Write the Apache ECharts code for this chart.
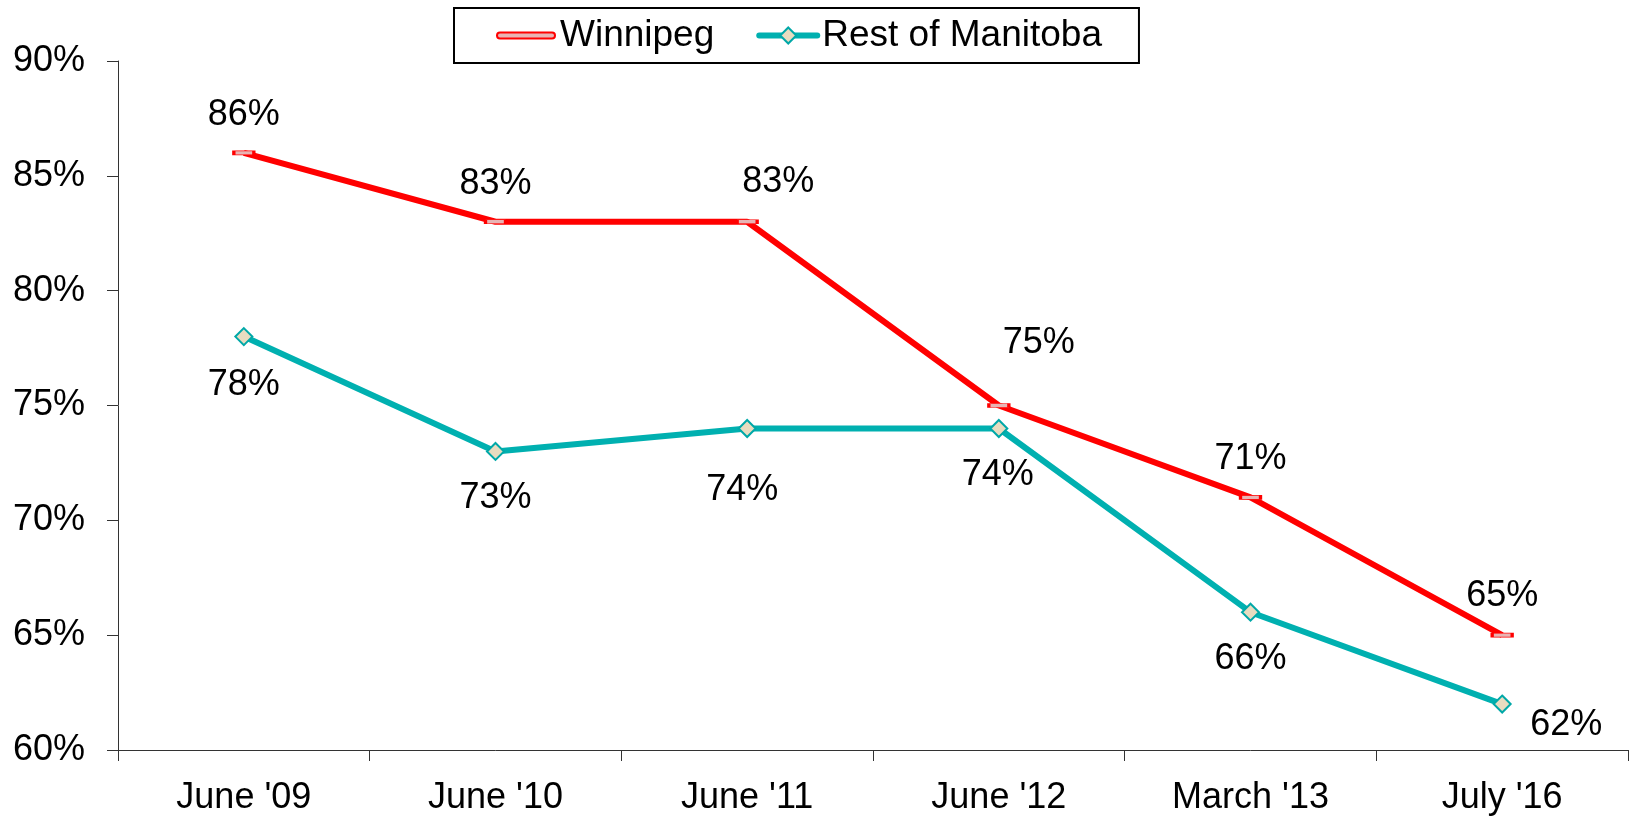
<!DOCTYPE html>
<html>
<head>
<meta charset="utf-8">
<title>Winnipeg vs Rest of Manitoba</title>
<script src="https://cdn.jsdelivr.net/npm/echarts@6/dist/echarts.min.js"></script>
<style>
  html, body { margin: 0; padding: 0; background: #fff; }
  #chart { width: 1629px; height: 816px; }
</style>
</head>
<body>
<div id="chart"></div>
<script>
const categories = ["June '09", "June '10", "June '11", "June '12", "March '13", "July '16"];
const winnipeg = [86, 83, 83, 75, 71, 65];
const restOfManitoba = [78, 73, 74, 74, 66, 62];

// label nudges (px) so labels sit where the original has them
const winnipegLabelOffset = [[0, -38], [0, -38], [31, -40], [40, -62], [0, -38], [0, -39]];
const restLabelOffset = [[0, 48], [0, 47], [-5, 62], [-1, 47], [0, 47], [64, 21]];

const FONT = 'Liberation Sans, Arial, sans-serif';

const withLabels = (values, offsets) =>
  values.map((v, i) => ({
    value: v,
    label: { offset: offsets[i] }
  }));

const chart = echarts.init(document.getElementById('chart'));

chart.setOption({
  animation: false,
  textStyle: { fontFamily: FONT },
  grid: { left: 118, right: 1, top: 61, bottom: 64, containLabel: false },
  legend: {
    left: 454,
    top: 8,
    padding: [9, 37, 9, 42],
    itemGap: 42,
    itemWidth: 58,
    itemHeight: 20,
    borderColor: '#000',
    borderWidth: 2,
    lineStyle: { width: 6, cap: 'round' },
    textStyle: { fontSize: 37, color: '#000', fontFamily: FONT },
    data: [
      { name: 'Winnipeg', icon: 'path://M3,0 L55,0 A3,3 0 0 1 55,6 L3,6 A3,3 0 0 1 3,0 Z' },
      { name: 'Rest of Manitoba' }
    ]
  },
  xAxis: {
    type: 'category',
    data: categories,
    boundaryGap: true,
    axisLine: { lineStyle: { color: '#333', width: 1 } },
    axisTick: { show: true, length: 11, alignWithLabel: false, lineStyle: { color: '#333' } },
    axisLabel: { interval: 0, margin: 30, fontSize: 36, color: '#000', fontFamily: FONT }
  },
  yAxis: {
    type: 'value',
    min: 60,
    max: 90,
    interval: 5,
    splitLine: { show: false },
    axisLine: { show: true, lineStyle: { color: '#333', width: 1 } },
    axisTick: { show: true, length: 11, lineStyle: { color: '#333' } },
    axisLabel: { margin: 33, fontSize: 36, color: '#000', fontFamily: FONT, formatter: '{value}%', padding: [4, 0, 0, 0] }
  },
  series: [
    {
      name: 'Winnipeg',
      type: 'line',
      data: withLabels(winnipeg, winnipegLabelOffset),
      symbol: 'rect',
      symbolSize: [20, 4],
      lineStyle: { color: '#ff0000', width: 6 },
      itemStyle: { color: '#e8b4b4', borderColor: '#ff0000', borderWidth: 1.5 },
      label: {
        show: true,
        position: 'inside',
        align: 'center',
        verticalAlign: 'middle',
        fontSize: 36,
        color: '#000',
        fontFamily: FONT,
        formatter: '{c}%'
      },
      z: 3
    },
    {
      name: 'Rest of Manitoba',
      type: 'line',
      data: withLabels(restOfManitoba, restLabelOffset),
      symbol: 'diamond',
      symbolSize: 17,
      lineStyle: { color: '#00b0b0', width: 6 },
      itemStyle: { color: '#e8dcc0', borderColor: '#00a8a8', borderWidth: 2 },
      label: {
        show: true,
        position: 'inside',
        align: 'center',
        verticalAlign: 'middle',
        fontSize: 36,
        color: '#000',
        fontFamily: FONT,
        formatter: '{c}%'
      },
      z: 2
    }
  ]
});
</script>
</body>
</html>
